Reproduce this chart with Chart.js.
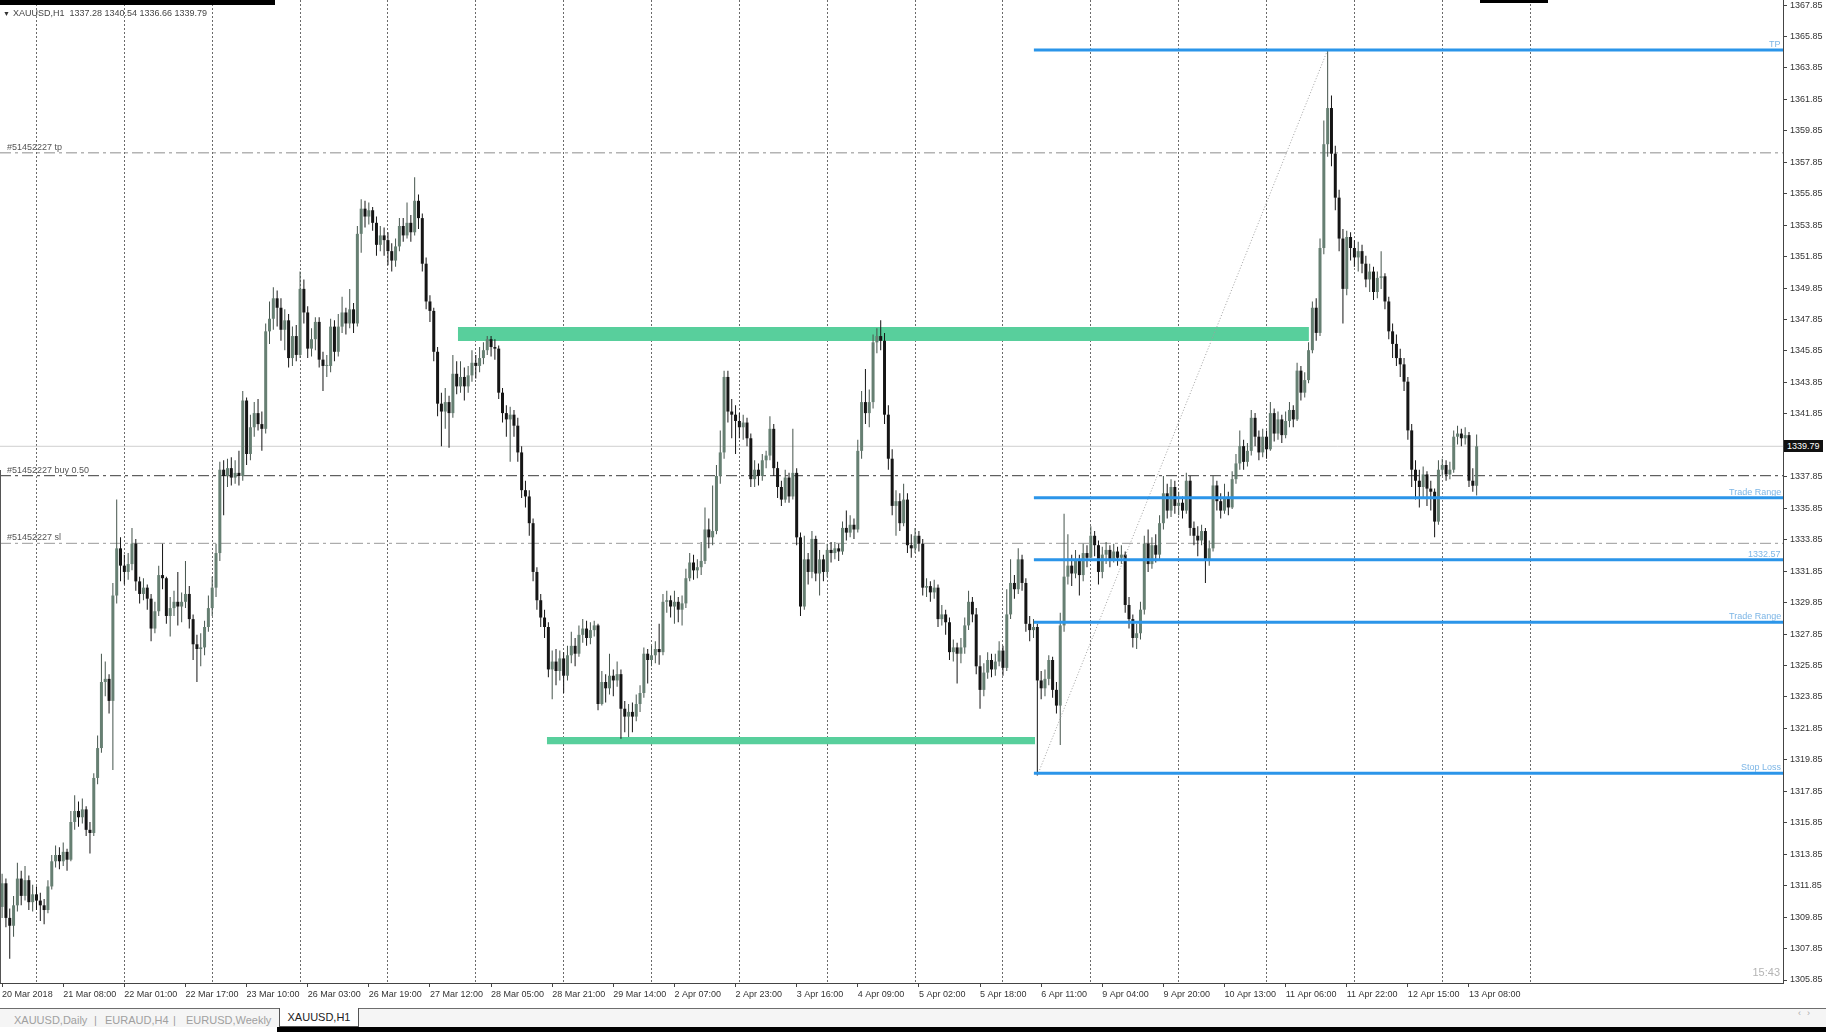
<!DOCTYPE html>
<html>
<head>
<meta charset="utf-8">
<title>XAUUSD,H1</title>
<script src="https://cdn.jsdelivr.net/npm/chart.js@4.4.1/dist/chart.umd.min.js"></script>
<style>
  html, body { margin: 0; padding: 0; background: #fff; }
  body { width: 1826px; height: 1032px; position: relative; overflow: hidden; font-family: 'Liberation Sans', 'DejaVu Sans', sans-serif; }
  #wrap { position: absolute; left: 0; top: 0; width: 1826px; height: 1008px; }
  .lbl { position: absolute; font-size: 9px; line-height: 10px; white-space: nowrap; }
  .order { left: 7px; color: #555; }
  .level { color: #7db6e6; }
  #pricebox { position: absolute; background: #111; color: #fff; font-size: 9px; line-height: 12px; height: 12px; padding: 0 3px; }
  #header { position: absolute; left: 3px; top: 8px; font-size: 9px; line-height: 11px; color: #444; white-space: nowrap; }
  #header .tri { font-size: 7px; color: #333; margin-right: 3px; }
  #clock { position: absolute; left: 1700px; width: 80px; top: 966px; text-align: right; font-size: 11px; color: #b4b4b4; }
  #sep { position: absolute; left: 0; top: 1008px; width: 1826px; height: 1px; background: #6e6e6e; }
  #tabbar { position: absolute; left: 0; top: 1009px; width: 1826px; height: 18px; background: #f5f5f5; }
  .tab { position: absolute; top: 1014px; font-size: 11px; line-height: 12px; color: #a0a0a0; white-space: nowrap; }
  #active { position: absolute; left: 279px; top: 1008px; width: 78px; height: 18px; background: #fff; border: 1px solid #555; border-top: none; font-size: 11px; line-height: 19px; color: #222; text-align: center; }
  #arrows { position: absolute; left: 1798px; top: 1008px; font-size: 9px; color: #aaa; letter-spacing: 6px; }
  .blk { position: absolute; background: #000; }
  #leftedge { position: absolute; left: 0; top: 470px; width: 1px; height: 513px; background: #555; }
</style>
</head>
<body>
<div id="wrap"><canvas id="chart"></canvas></div>
<div id="leftedge"></div>
<div id="header"><span class="tri">&#9660;</span>XAUUSD,H1&nbsp; 1337.28 1340.54 1336.66 1339.79</div>
<div id="clock">15:43</div>
<div id="sep"></div>
<div id="tabbar"></div>
<div class="tab" style="left:14px">XAUUSD,Daily</div>
<div class="tab" style="left:94px">|</div>
<div class="tab" style="left:105px">EURAUD,H4</div>
<div class="tab" style="left:173px">|</div>
<div class="tab" style="left:186px">EURUSD,Weekly</div>
<div id="active">XAUUSD,H1</div>
<div id="arrows">&#8249;&#8250;</div>
<div class="blk" style="left:0;top:0;width:275px;height:5px"></div>
<div class="blk" style="left:1480px;top:0;width:68px;height:3px"></div>
<div class="blk" style="left:277px;top:1027px;width:1549px;height:5px"></div>
<script>
// XAUUSD H1, 20 Mar 2018 15:00 .. 13 Apr 2018 10:00, one value per hourly bar
// open of each bar is the close of the bar before it
const firstOpen = 1310.5;

const closes = [
  // 20 Mar
  1312.0, 1309.8, 1309.3, 1310.6, 1312.3, 1311.2, 1312.2, 1310.8, 1311.3,
  // 21 Mar
  1310.9, 1310.6, 1310.3, 1311.8, 1313.4, 1313.8, 1313.4, 1314.0, 1313.5, 1315.9, 1316.6, 1316.2, 1316.7, 1315.4, 1315.2, 1318.7, 1320.6, 1324.8, 1325.0, 1323.6, 1330.3, 1333.3, 1332.2,
  // 22 Mar
  1331.8, 1332.3, 1333.6, 1331.2, 1330.4, 1330.8, 1330.1, 1328.2, 1329.3, 1331.6, 1331.4, 1329.0, 1329.5, 1329.9, 1329.6, 1329.9, 1330.4, 1328.8, 1327.2, 1326.9, 1327.0, 1328.3, 1329.5,
  // 23 Mar
  1330.8, 1333.0, 1338.3, 1337.9, 1338.4, 1337.8, 1338.1, 1337.9, 1342.7, 1339.3, 1341.0, 1341.9, 1341.2, 1340.9, 1347.1, 1347.9, 1349.2, 1348.6, 1347.2, 1347.8, 1345.4, 1346.8, 1345.6,
  // 26 Mar
  1349.8, 1348.3, 1346.0, 1346.6, 1347.7, 1345.3, 1344.9, 1344.9, 1347.4, 1345.8, 1347.4, 1348.3, 1347.6, 1348.5, 1347.6, 1353.3, 1354.9, 1354.4, 1354.8, 1354.0, 1352.6, 1353.2, 1352.9,
  // 27 Mar
  1352.2, 1351.6, 1352.5, 1353.8, 1353.2, 1354.0, 1353.4, 1355.4, 1354.3, 1351.4, 1349.0, 1348.4, 1345.8, 1342.5, 1342.0, 1342.6, 1341.9, 1344.4, 1343.6, 1344.2, 1343.6, 1344.3, 1345.1,
  // 28 Mar
  1344.9, 1345.4, 1345.9, 1346.6, 1346.1, 1346.0, 1343.2, 1341.9, 1341.5, 1341.8, 1341.1, 1339.4, 1337.0, 1336.6, 1334.9, 1331.8, 1330.0, 1328.9, 1328.3, 1325.6, 1326.1, 1325.5, 1326.3,
  // 29 Mar
  1325.2, 1326.5, 1327.1, 1326.6, 1327.8, 1328.2, 1327.6, 1328.1, 1328.4, 1323.4, 1324.8, 1324.4, 1325.2, 1324.9, 1325.3, 1323.1, 1322.6, 1322.9, 1322.6, 1323.4, 1324.1, 1326.6, 1326.2,
  // 2 Apr
  1326.5, 1326.9, 1326.7, 1329.9, 1330.0, 1329.6, 1329.9, 1329.4, 1329.8, 1331.4, 1332.4, 1331.9, 1332.1, 1332.5, 1334.5, 1334.0, 1334.4, 1337.9, 1339.4, 1344.2, 1342.0, 1341.8, 1341.4,
  // 3 Apr
  1341.0, 1341.3, 1340.3, 1337.7, 1338.3, 1337.9, 1338.9, 1339.2, 1340.9, 1338.4, 1337.2, 1336.4, 1337.8, 1336.6, 1338.1, 1334.0, 1329.6, 1332.6, 1331.8, 1333.9, 1331.7, 1332.6, 1331.8,
  // 4 Apr
  1333.2, 1333.0, 1333.3, 1333.1, 1334.6, 1334.3, 1334.8, 1334.5, 1339.5, 1342.6, 1341.9, 1342.6, 1346.4, 1346.8, 1346.5, 1341.8, 1339.0, 1336.0, 1336.3, 1334.9, 1336.4, 1333.5, 1333.3,
  // 5 Apr
  1334.1, 1333.6, 1330.8, 1330.9, 1330.5, 1330.8, 1328.8, 1329.1, 1328.6, 1326.7, 1327.0, 1326.6, 1327.0, 1328.4, 1329.9, 1329.1, 1325.8, 1324.3, 1325.4, 1326.2, 1325.6, 1326.1, 1326.8,
  // 6 Apr
  1325.7, 1329.1, 1331.1, 1330.7, 1332.6, 1331.1, 1328.5, 1328.1, 1328.3, 1324.9, 1324.4, 1325.0, 1326.2, 1324.3, 1323.3, 1328.4, 1331.5, 1332.2, 1331.7, 1332.5, 1331.6, 1333.0, 1332.7,
  // 9 Apr
  1334.1, 1333.5, 1331.8, 1332.9, 1333.2, 1332.6, 1333.1, 1332.7, 1332.9, 1329.7, 1328.8, 1327.6, 1327.9, 1329.4, 1333.6, 1332.3, 1333.5, 1332.9, 1334.9, 1336.8, 1335.7, 1337.2, 1336.0,
  // 10 Apr
  1336.2, 1335.7, 1337.6, 1334.6, 1334.1, 1333.8, 1334.4, 1332.6, 1333.3, 1337.3, 1336.3, 1335.7, 1336.5, 1335.9, 1337.7, 1338.7, 1339.8, 1338.8, 1339.5, 1341.6, 1340.4, 1339.4, 1340.4,
  // 11 Apr
  1339.6, 1341.9, 1340.6, 1341.5, 1340.5, 1341.4, 1342.1, 1341.5, 1344.6, 1343.2, 1344.0, 1345.9, 1348.6, 1347.0, 1352.4, 1359.0, 1361.3, 1358.4, 1355.6, 1353.0, 1349.8, 1353.1, 1352.4,
  // 12 Apr
  1351.8, 1352.2, 1351.4, 1350.4, 1350.9, 1349.6, 1350.5, 1350.6, 1349.0, 1347.1, 1346.3, 1345.4, 1345.0, 1343.9, 1340.8, 1338.3, 1337.6, 1337.2, 1338.0, 1337.1, 1336.9, 1335.0, 1338.3,
  // 13 Apr
  1338.6, 1338.0, 1338.3, 1340.4, 1340.6, 1340.3, 1340.5, 1337.6, 1337.28, 1339.79
];

const highs = [
  1312.6, 1312.3, 1310.4, 1311.2, 1313.3, 1312.8, 1313.1, 1312.5, 1311.9,
  1311.8, 1311.4, 1311.0, 1312.2, 1313.8, 1314.4, 1314.3, 1314.6, 1314.2, 1316.6, 1317.6, 1317.2, 1317.4, 1316.9, 1315.9, 1319.0, 1321.4, 1326.6, 1326.1, 1325.3, 1331.1, 1336.4, 1334.0,
  1332.9, 1333.0, 1334.6, 1333.9, 1331.5, 1331.4, 1331.0, 1330.4, 1329.9, 1332.2, 1333.6, 1331.5, 1330.2, 1330.6, 1331.8, 1330.5, 1332.5, 1330.9, 1329.1, 1327.8, 1327.9, 1328.7, 1330.3,
  1331.5, 1333.6, 1338.8, 1338.9, 1339.0, 1339.1, 1338.9, 1339.5, 1343.3, 1342.9, 1341.8, 1342.6, 1342.8, 1342.0, 1347.6, 1349.0, 1349.9, 1349.7, 1349.2, 1348.5, 1348.2, 1347.4, 1347.5,
  1350.9, 1350.4, 1348.7, 1347.3, 1348.0, 1348.0, 1345.8, 1345.6, 1347.9, 1347.8, 1348.2, 1349.3, 1348.6, 1349.8, 1348.9, 1353.8, 1355.5, 1355.4, 1355.3, 1355.0, 1354.4, 1353.8, 1353.7,
  1353.4, 1352.7, 1353.0, 1354.3, 1354.3, 1355.3, 1354.5, 1356.9, 1355.8, 1354.6, 1351.8, 1349.4, 1348.6, 1346.1, 1343.2, 1343.5, 1343.0, 1345.6, 1345.2, 1345.2, 1344.8, 1344.9, 1345.9,
  1345.6, 1346.1, 1346.4, 1346.8, 1346.8, 1346.6, 1346.2, 1343.5, 1342.4, 1342.3, 1342.1, 1341.6, 1339.8, 1337.6, 1337.0, 1335.2, 1332.1, 1330.4, 1329.4, 1328.6, 1326.8, 1326.9, 1326.8,
  1326.7, 1327.1, 1328.0, 1327.6, 1328.4, 1328.8, 1328.7, 1328.6, 1328.7, 1328.5, 1325.5, 1325.3, 1326.6, 1325.6, 1326.1, 1325.6, 1323.6, 1323.4, 1323.5, 1324.0, 1324.6, 1327.0, 1326.9,
  1327.1, 1327.4, 1328.5, 1330.4, 1330.6, 1330.3, 1330.6, 1330.2, 1330.3, 1332.0, 1333.0, 1332.9, 1332.6, 1333.7, 1335.9, 1335.2, 1337.3, 1338.6, 1340.8, 1344.6, 1344.6, 1342.8, 1342.4,
  1341.9, 1341.8, 1341.6, 1340.6, 1338.9, 1338.7, 1339.3, 1339.5, 1341.7, 1341.2, 1338.8, 1337.6, 1338.3, 1338.1, 1340.9, 1338.4, 1334.3, 1334.1, 1333.0, 1334.4, 1334.1, 1333.2, 1332.9,
  1333.6, 1333.7, 1333.7, 1333.6, 1335.0, 1335.7, 1335.4, 1335.2, 1340.2, 1343.3, 1344.7, 1343.4, 1346.9, 1347.3, 1347.8, 1347.0, 1342.4, 1339.6, 1337.0, 1336.8, 1337.4, 1336.8, 1334.2,
  1334.6, 1334.4, 1333.9, 1331.4, 1331.2, 1331.3, 1331.0, 1329.7, 1329.4, 1328.9, 1327.5, 1327.3, 1327.6, 1328.9, 1330.6, 1330.2, 1329.5, 1326.5, 1326.0, 1326.7, 1326.6, 1326.6, 1327.4,
  1327.1, 1330.7, 1332.6, 1331.6, 1333.3, 1332.9, 1331.4, 1329.0, 1328.8, 1328.5, 1325.5, 1325.6, 1326.5, 1326.4, 1324.8, 1329.2, 1335.5, 1334.2, 1332.9, 1333.2, 1332.9, 1333.6, 1333.5,
  1334.7, 1334.4, 1333.8, 1333.4, 1333.7, 1333.5, 1333.6, 1333.4, 1333.5, 1333.1, 1330.2, 1329.1, 1328.5, 1329.9, 1334.1, 1334.5, 1334.0, 1334.2, 1335.4, 1337.9, 1337.4, 1337.7, 1337.6,
  1336.9, 1336.6, 1338.1, 1337.9, 1335.0, 1334.7, 1334.8, 1334.6, 1333.8, 1337.9, 1337.6, 1336.8, 1337.4, 1336.9, 1338.2, 1339.3, 1340.8, 1340.2, 1340.0, 1342.1, 1341.9, 1340.8, 1340.9,
  1340.8, 1342.6, 1342.2, 1342.0, 1341.8, 1342.0, 1342.6, 1342.4, 1345.1, 1344.9, 1344.5, 1346.4, 1349.0, 1349.2, 1353.0, 1360.5, 1365.0, 1362.1, 1358.9, 1356.1, 1353.6, 1353.5, 1353.4,
  1352.9, 1352.8, 1352.6, 1351.9, 1351.4, 1351.2, 1350.9, 1352.2, 1350.8, 1349.3, 1347.6, 1346.9, 1346.0, 1345.4, 1344.2, 1341.2, 1338.9, 1338.3, 1338.5, 1338.2, 1337.6, 1337.1, 1338.9,
  1339.0, 1338.9, 1338.8, 1340.8, 1341.1, 1340.9, 1341.0, 1340.7, 1338.4, 1340.54
];

const lows = [
  1309.8, 1309.2, 1307.2, 1308.6, 1310.2, 1310.6, 1310.9, 1310.3, 1310.2,
  1310.3, 1309.6, 1309.4, 1310.1, 1311.6, 1313.0, 1312.9, 1313.1, 1312.8, 1313.4, 1315.4, 1315.6, 1315.8, 1315.0, 1313.9, 1315.0, 1318.3, 1320.3, 1323.9, 1322.8, 1319.2, 1329.8, 1331.2,
  1331.0, 1331.3, 1331.9, 1330.6, 1329.8, 1330.0, 1329.4, 1327.4, 1327.9, 1329.0, 1330.7, 1328.5, 1327.7, 1329.0, 1328.4, 1328.6, 1329.5, 1328.2, 1326.2, 1324.8, 1325.8, 1326.5, 1328.0,
  1329.0, 1330.2, 1332.5, 1335.4, 1337.2, 1337.3, 1337.4, 1337.3, 1337.6, 1338.6, 1338.9, 1340.4, 1340.8, 1339.5, 1340.6, 1346.3, 1347.2, 1347.4, 1346.5, 1345.9, 1344.8, 1344.9, 1345.2,
  1345.4, 1347.6, 1345.4, 1345.5, 1345.9, 1344.8, 1343.3, 1344.2, 1344.5, 1345.2, 1345.5, 1347.0, 1346.9, 1347.3, 1347.0, 1347.4, 1352.1, 1353.7, 1353.9, 1353.5, 1351.9, 1352.2, 1351.9,
  1351.3, 1350.9, 1351.2, 1352.2, 1352.8, 1353.0, 1352.8, 1353.2, 1353.6, 1350.9, 1348.5, 1347.7, 1345.2, 1341.7, 1339.8, 1340.9, 1339.7, 1341.6, 1343.1, 1343.2, 1342.7, 1343.2, 1343.9,
  1344.1, 1344.5, 1345.0, 1345.6, 1345.5, 1345.3, 1342.8, 1341.3, 1340.4, 1338.8, 1340.4, 1338.8, 1336.5, 1335.9, 1334.1, 1331.2, 1329.4, 1328.3, 1327.6, 1325.1, 1323.7, 1324.6, 1324.9,
  1324.1, 1324.9, 1326.0, 1325.8, 1326.4, 1327.3, 1327.1, 1327.2, 1327.7, 1323.0, 1323.3, 1323.5, 1324.0, 1323.9, 1324.5, 1321.2, 1321.6, 1321.3, 1321.6, 1322.3, 1322.9, 1323.8, 1324.7,
  1325.8, 1326.0, 1325.9, 1326.5, 1329.2, 1328.9, 1328.5, 1328.6, 1328.4, 1329.5, 1331.2, 1331.3, 1331.4, 1331.6, 1332.3, 1333.3, 1333.5, 1334.2, 1337.4, 1339.0, 1341.3, 1340.3, 1339.3,
  1340.3, 1340.2, 1339.8, 1337.2, 1337.2, 1337.3, 1337.6, 1338.4, 1338.9, 1337.9, 1336.5, 1336.0, 1336.2, 1336.2, 1336.4, 1333.5, 1329.0, 1329.4, 1331.0, 1331.4, 1331.2, 1330.3, 1331.2,
  1331.5, 1332.4, 1332.6, 1332.5, 1332.9, 1333.8, 1334.0, 1333.9, 1334.3, 1339.0, 1341.2, 1341.0, 1342.2, 1345.7, 1345.9, 1341.2, 1338.3, 1335.4, 1334.1, 1334.4, 1334.7, 1333.0, 1332.7,
  1333.0, 1333.1, 1330.3, 1330.2, 1329.9, 1330.1, 1328.3, 1328.4, 1327.8, 1326.2, 1326.1, 1324.7, 1326.0, 1326.6, 1328.1, 1328.6, 1325.3, 1323.1, 1323.9, 1325.0, 1325.1, 1325.2, 1325.8,
  1325.2, 1325.5, 1328.8, 1330.1, 1330.4, 1330.6, 1328.0, 1327.4, 1327.6, 1318.85, 1323.7, 1323.9, 1324.6, 1323.8, 1322.8, 1320.8, 1328.0, 1331.0, 1330.9, 1331.4, 1330.3, 1331.2, 1332.1,
  1332.9, 1332.8, 1331.0, 1331.4, 1332.3, 1332.1, 1332.4, 1332.2, 1332.3, 1329.2, 1328.2, 1327.0, 1326.9, 1327.5, 1329.1, 1331.8, 1332.0, 1332.4, 1332.6, 1334.5, 1335.2, 1335.3, 1335.5,
  1335.4, 1335.2, 1335.5, 1334.1, 1333.5, 1332.8, 1333.5, 1331.1, 1332.2, 1333.1, 1335.7, 1335.2, 1335.5, 1335.4, 1335.8, 1337.4, 1338.3, 1338.3, 1338.5, 1339.2, 1339.8, 1338.9, 1339.1,
  1339.0, 1339.5, 1340.1, 1340.2, 1340.0, 1340.3, 1341.0, 1341.0, 1341.4, 1342.7, 1342.9, 1343.8, 1345.7, 1346.5, 1346.8, 1352.0, 1358.2, 1357.6, 1354.8, 1352.2, 1347.6, 1349.4, 1351.6,
  1351.2, 1350.9, 1350.8, 1349.9, 1349.6, 1349.1, 1349.2, 1349.8, 1348.5, 1346.6, 1345.4, 1344.9, 1344.2, 1343.3, 1340.2, 1337.2, 1336.4, 1335.9, 1336.5, 1336.0, 1335.7, 1334.0, 1334.8,
  1337.9, 1337.6, 1337.7, 1338.1, 1339.9, 1339.8, 1339.9, 1337.2, 1336.9, 1336.66
];

// time axis: one label every 16 bars
const labelBars = [0, 16, 32, 48, 64, 80, 96, 112, 128, 144, 160, 176, 192, 208, 224, 240, 256, 272, 288, 304, 320, 336, 352, 368, 384];
const timeLabels = ['20 Mar 2018', '21 Mar 08:00', '22 Mar 01:00', '22 Mar 17:00', '23 Mar 10:00', '26 Mar 03:00', '26 Mar 19:00',
  '27 Mar 12:00', '28 Mar 05:00', '28 Mar 21:00', '29 Mar 14:00', '2 Apr 07:00', '2 Apr 23:00', '3 Apr 16:00', '4 Apr 09:00',
  '5 Apr 02:00', '5 Apr 18:00', '6 Apr 11:00', '9 Apr 04:00', '9 Apr 20:00', '10 Apr 13:00', '11 Apr 06:00', '11 Apr 22:00',
  '12 Apr 15:00', '13 Apr 08:00'];
// first bar of each trading day (day separators)
const dayStarts = [9, 32, 55, 78, 101, 124, 147, 170, 193, 216, 239, 262, 285, 308, 331, 354, 377, 400];

const priceTicks = [1305.85, 1307.85, 1309.85, 1311.85, 1313.85, 1315.85, 1317.85, 1319.85, 1321.85, 1323.85, 1325.85,
  1327.85, 1329.85, 1331.85, 1333.85, 1335.85, 1337.85, 1339.85, 1341.85, 1343.85, 1345.85, 1347.85, 1349.85, 1351.85,
  1353.85, 1355.85, 1357.85, 1359.85, 1361.85, 1363.85, 1365.85, 1367.85];

const lastPrice = 1339.79;

// order #51452227 lines
const orderLevels = [1358.45, 1337.92, 1333.62];
const orderNames = ['#51452227 tp', '#51452227 buy 0.50', '#51452227 sl'];

// blue trade levels drawn from the 6 Apr low to the right edge
const tradeLevels = [1364.99, 1336.52, 1332.57, 1328.60, 1319.00];
const tradeNames = ['TP', 'Trade Range', '1332.57', 'Trade Range', 'Stop Loss'];
const tradeStartBar = 270.1;

// green zones: [fromBar, toBar, lowPrice, highPrice]
const resistanceZone = [119.3, 342.1, 1346.48, 1347.37];
const supportZone = [142.6, 270.4, 1320.85, 1321.30];

// dotted swing line: low bar -> high bar
const swingFrom = [271, 1318.85];
const swingTo = [347, 1365.0];

const xMin = -0.55, xMax = 466.2;
const yMin = 1305.66, yMax = 1368.17;

const opens = closes.map((c, i) => (i === 0 ? firstOpen : closes[i - 1]));
const isBull = i => closes[i] >= opens[i];

const font = { family: "'Liberation Sans', 'DejaVu Sans', sans-serif", size: 9 };
const bullBody = '#667f72', bearBody = '#151515';
const bullWick = '#45544c', bearWick = '#151515';
const blue = '#2b95e9', green = '#58cf9c';

function hLine(x0, x1, price, color, width, dash, order) {
  return {
    type: 'line',
    data: [{ x: x0, y: price }, { x: x1, y: price }],
    borderColor: color, borderWidth: width, borderDash: dash || [],
    pointRadius: 0, tension: 0, fill: false, order
  };
}

function zone(z) {
  const top = hLine(z[0], z[1], z[3], green, 0, null, 10);
  const bottom = hLine(z[0], z[1], z[2], green, 0, null, 10);
  bottom.fill = '-1';
  bottom.backgroundColor = green;
  return [top, bottom];
}

const datasets = [
  ...zone(resistanceZone),
  ...zone(supportZone),
  hLine(xMin, xMax, lastPrice, '#cfcfcf', 1, null, 9),
  hLine(xMin, xMax, orderLevels[0], '#8d8d8d', 1, [11, 4, 3, 4], 8),
  hLine(xMin, xMax, orderLevels[1], '#3a3a3a', 1, [11, 4, 3, 4], 8),
  hLine(xMin, xMax, orderLevels[2], '#9a9a9a', 1, [11, 4, 3, 4], 8),
  {
    type: 'bar',
    data: closes.map((c, i) => ({ x: i, y: [lows[i], highs[i]] })),
    backgroundColor: ctx => (isBull(ctx.dataIndex) ? bullWick : bearWick),
    barThickness: 1, grouped: false, inflateAmount: 0, borderWidth: 0, order: 4
  },
  {
    type: 'bar',
    data: closes.map((c, i) => ({ x: i, y: [opens[i], c] })),
    backgroundColor: ctx => (isBull(ctx.dataIndex) ? bullBody : bearBody),
    barThickness: 3, minBarLength: 1, grouped: false, inflateAmount: 0, borderWidth: 0, order: 3
  },
  {
    type: 'line',
    data: [{ x: swingFrom[0], y: swingFrom[1] }, { x: swingTo[0], y: swingTo[1] }],
    borderColor: '#a0a0a0', borderWidth: 1, borderDash: [1, 2], pointRadius: 0, fill: false, order: 2
  },
  ...tradeLevels.map(p => hLine(tradeStartBar, xMax, p, blue, 3, null, 1))
];

// text labels placed from the chart's own scales
const wrap = document.getElementById('wrap');
function addLabel(text, cls) {
  const d = document.createElement('div');
  d.className = 'lbl ' + cls;
  d.textContent = text;
  wrap.appendChild(d);
  return d;
}
const orderEls = orderNames.map(t => addLabel(t, 'order'));
const tradeEls = tradeNames.map(t => addLabel(t, 'level'));
const priceBox = document.createElement('div');
priceBox.id = 'pricebox';
priceBox.textContent = lastPrice.toFixed(2);
wrap.appendChild(priceBox);

const labelPlugin = {
  id: 'domLabels',
  afterDraw(chart) {
    const y = chart.scales.y;
    const area = chart.chartArea;
    orderEls.forEach((el, i) => {
      el.style.top = (y.getPixelForValue(orderLevels[i]) - el.offsetHeight - 1) + 'px';
    });
    tradeEls.forEach((el, i) => {
      el.style.top = (y.getPixelForValue(tradeLevels[i]) - el.offsetHeight - 1) + 'px';
      el.style.left = (area.right - el.offsetWidth - 2) + 'px';
    });
    priceBox.style.left = (area.right + 1) + 'px';
    priceBox.style.top = (y.getPixelForValue(lastPrice) - 6) + 'px';
  }
};

new Chart(document.getElementById('chart'), {
  type: 'bar',
  data: { datasets },
  options: {
    responsive: true,
    maintainAspectRatio: false,
    animation: false,
    events: [],
    layout: { padding: 0 },
    plugins: { legend: { display: false }, tooltip: { enabled: false } },
    scales: {
      x: {
        type: 'linear', min: xMin, max: xMax, offset: false,
        afterBuildTicks: s => { s.ticks = labelBars.map(v => ({ value: v })); },
        afterFit: s => { s.height = 25; s.paddingLeft = 0; s.paddingRight = 0; },
        ticks: {
          autoSkip: false, maxRotation: 0, minRotation: 0, align: 'start', padding: 2,
          color: '#333', font, callback: (v, i) => timeLabels[i]
        },
        grid: { drawOnChartArea: false, drawTicks: true, tickLength: 4, color: '#444', offset: false },
        border: { display: true, color: '#444', width: 1 }
      },
      days: {
        type: 'linear', position: 'top', min: xMin, max: xMax, offset: false,
        afterBuildTicks: s => { s.ticks = dayStarts.map(v => ({ value: v })); },
        afterFit: s => { s.height = 0; s.paddingLeft = 0; s.paddingRight = 0; },
        ticks: { display: false },
        grid: { drawTicks: false, color: '#6a6a6a', lineWidth: 1, offset: false },
        border: { display: false, dash: [2, 2] }
      },
      y: {
        type: 'linear', position: 'right', min: yMin, max: yMax, beginAtZero: false,
        afterBuildTicks: s => { s.ticks = priceTicks.map(v => ({ value: v })); },
        afterFit: s => { s.width = 43; s.paddingTop = 0; s.paddingBottom = 0; },
        ticks: { padding: 3, color: '#333', font, callback: v => v.toFixed(2) },
        grid: { drawOnChartArea: false, drawTicks: true, tickLength: 4, color: '#444' },
        border: { display: true, color: '#444', width: 1 }
      }
    }
  },
  plugins: [labelPlugin]
});
</script>
</body>
</html>
